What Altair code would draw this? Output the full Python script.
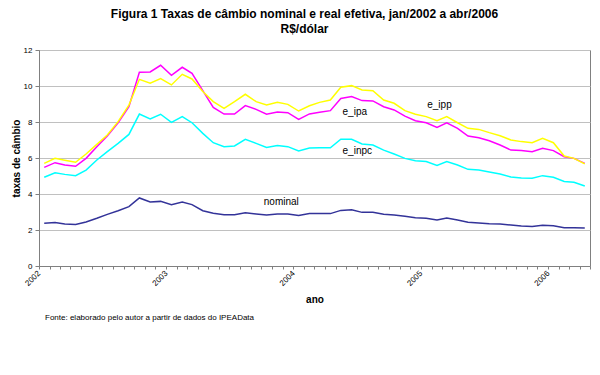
import altair as alt
import pandas as pd

FONT = "Liberation Sans"

# ---- data ----
months = [d.strftime("%Y-%m-%d") for d in pd.date_range("2002-01-01", periods=52, freq="MS") + pd.Timedelta(days=15)]

e_ipp = [5.70, 5.98, 5.87, 5.76, 6.22, 6.76, 7.28, 8.02, 8.94, 10.37, 10.15, 10.41, 10.06,
         10.65, 10.39, 9.69, 9.13, 8.76, 9.13, 9.54, 9.13, 8.94, 9.09, 8.98, 8.61,
         8.90, 9.09, 9.22, 9.93, 10.02, 9.78, 9.74, 9.22, 9.04, 8.63, 8.43, 8.30, 8.07, 8.30,
         7.96, 7.65, 7.59, 7.41, 7.24, 7.00, 6.91, 6.85, 7.09, 6.85, 6.11, 5.98, 5.67]
e_ipa = [5.48, 5.74, 5.61, 5.54, 5.98, 6.63, 7.22, 7.96, 8.85, 10.76, 10.78, 11.15, 10.59,
         11.04, 10.70, 9.74, 8.81, 8.44, 8.44, 8.91, 8.70, 8.43, 8.56, 8.52, 8.15,
         8.45, 8.54, 8.63, 9.31, 9.41, 9.19, 9.17, 8.85, 8.67, 8.33, 8.07, 7.96, 7.70, 7.96,
         7.65, 7.22, 7.13, 6.96, 6.72, 6.44, 6.41, 6.35, 6.54, 6.41, 6.07, 5.98, 5.70]
e_inpc = [4.93, 5.18, 5.09, 5.02, 5.33, 5.89, 6.35, 6.81, 7.31, 8.44, 8.17, 8.43, 7.98,
          8.30, 7.96, 7.37, 6.85, 6.63, 6.67, 7.04, 6.81, 6.59, 6.69, 6.63, 6.39,
          6.55, 6.57, 6.57, 7.04, 7.04, 6.78, 6.72, 6.44, 6.22, 5.98, 5.85, 5.80, 5.59, 5.80,
          5.61, 5.37, 5.33, 5.22, 5.11, 4.94, 4.89, 4.87, 5.02, 4.93, 4.70, 4.65, 4.44]
nominal = [2.37, 2.41, 2.33, 2.30, 2.44, 2.65, 2.87, 3.07, 3.30, 3.78, 3.56, 3.59, 3.41,
           3.56, 3.41, 3.07, 2.93, 2.85, 2.85, 2.96, 2.89, 2.83, 2.89, 2.89, 2.81,
           2.91, 2.91, 2.91, 3.09, 3.13, 2.98, 2.98, 2.87, 2.83, 2.76, 2.68, 2.65, 2.56, 2.67,
           2.56, 2.43, 2.39, 2.35, 2.33, 2.28, 2.22, 2.19, 2.26, 2.24, 2.13, 2.13, 2.11]

series_names = ["nominal", "e_inpc", "e_ipa", "e_ipp"]
series_colors = ["#333399", "#00FFFF", "#FF00FF", "#FFFF00"]

label_names = ["e_ipp", "e_ipa", "e_inpc", "nominal"]
label_dates = ["2005-01-19", "2004-05-21", "2004-05-21", "2003-10-08"]
label_values = [8.94, 8.56, 6.39, 3.56]

y_ticks = [0, 2, 4, 6, 8, 10, 12]

title_lines = ["Figura 1 Taxas de câmbio nominal e real efetiva, jan/2002 a abr/2006", "R$/dólar"]
footnote = "Fonte: elaborado pelo autor a partir de dados do IPEAData"

# ---- tables ----
rows = []
for name, vals in zip(["nominal", "e_inpc", "e_ipa", "e_ipp"], [nominal, e_inpc, e_ipa, e_ipp]):
    for m, v in zip(months, vals):
        rows.append({"mes": m, "valor": v, "serie": name})
df = pd.DataFrame(rows)
lab = pd.DataFrame({"serie": label_names, "mes": label_dates, "valor": label_values})
foot = pd.DataFrame({"t": [footnote]})

tick_values = [alt.DateTime(year=2002 + k // 12, month=k % 12 + 1, date=1, utc=True) for k in range(53)]

xscale = alt.Scale(type="utc",
                   domain=[alt.DateTime(year=2002, month=1, date=1, utc=True),
                           alt.DateTime(year=2006, month=5, date=1, utc=True)])
yscale = alt.Scale(domain=[0, 12], nice=False)

xaxis = alt.Axis(values=tick_values,
                 labelExpr="utcmonth(datum.value) == 0 ? utcFormat(datum.value, '%Y') : ''",
                 labelAngle=-45, labelAlign="right", labelBaseline="middle",
                 labelOverlap=False, labelFontSize=8, labelPadding=3,
                 tickSize=3, grid=False, title="ano", titleFontSize=10,
                 titleFontWeight="bold", titleY=33, titleBaseline="middle")
yaxis = alt.Axis(values=y_ticks, labelFontSize=8, tickSize=4, labelOverlap=False,
                 labelPadding=3, grid=True, title="taxas de câmbio", titleFontSize=10,
                 titleFontWeight="bold", titleX=-23, titleY=108, titleBaseline="middle",
                 titleAlign="center")

lines = alt.Chart(df).mark_line(strokeWidth=1.5).encode(
    x=alt.X("mes:T", scale=xscale, axis=xaxis),
    y=alt.Y("valor:Q", scale=yscale, axis=yaxis),
    color=alt.Color("serie:N", scale=alt.Scale(domain=series_names, range=series_colors), legend=None),
    order=alt.Order("mes:T"),
    detail="serie:N",
)

labels = alt.Chart(lab).mark_text(align="left", baseline="middle", fontSize=10, font=FONT, color="black").encode(
    x=alt.X("mes:T", scale=xscale, axis=xaxis),
    y=alt.Y("valor:Q", scale=yscale, axis=yaxis),
    text="serie:N",
)

foot_text = alt.Chart(foot).mark_text(align="left", baseline="middle", fontSize=8, font=FONT, color="black").encode(
    x=alt.value(6), y=alt.value(268), text="t:N"
)

chart = alt.layer(lines, labels, foot_text).properties(
    width=551, height=216,
    padding={"left": 39, "top": 50, "right": 10, "bottom": 109},
    autosize=alt.AutoSizeParams(type="none"),
    title=alt.TitleParams(text=title_lines, fontSize=12, fontWeight="bold", font=FONT,
                          anchor="middle", dx=-10, offset=10, lineHeight=15, color="black"),
).configure(font=FONT, background="white").configure_view(
    stroke="#808080", strokeWidth=1
).configure_axis(
    domainColor="#808080", tickColor="#808080", gridColor="#c0c0c0",
    labelColor="black", titleColor="black", labelFont=FONT, titleFont=FONT,
)

chart.save("out.html", embed_options={"renderer": "svg", "actions": False})
